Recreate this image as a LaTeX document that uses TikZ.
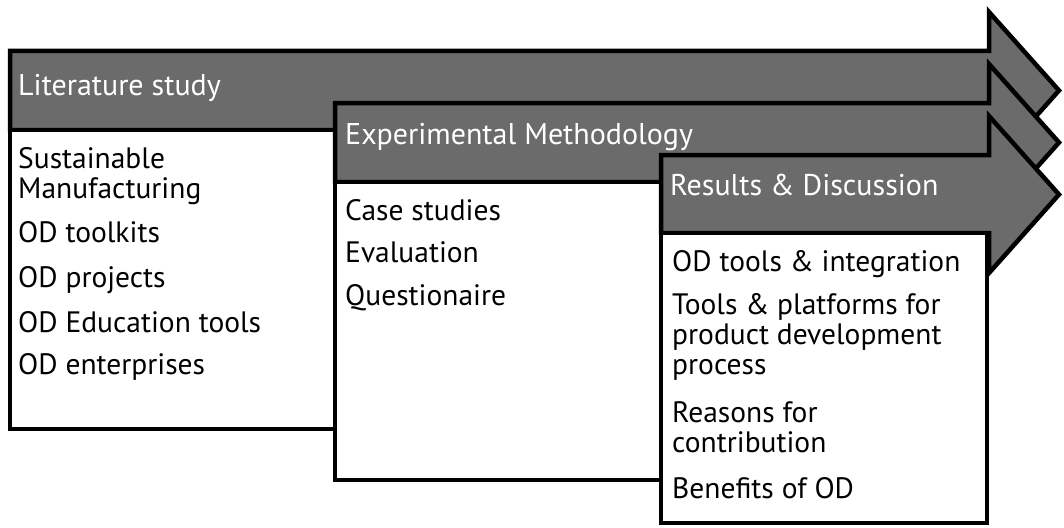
\documentclass[tikz,border=0pt]{standalone}
\usepackage{fontspec}
\setmainfont{PT Sans}
\definecolor{arrowgray}{RGB}{107,107,107}
\begin{document}
\begin{tikzpicture}[x=1pt,y=-1pt,
  arrowshape/.style={fill=arrowgray,draw=black,line width=4.5pt,line join=miter},
  listbox/.style={fill=white,draw=black,line width=4.5pt},
  head/.style={anchor=base west,inner sep=0pt,text=white,font=\fontsize{30}{30}\selectfont},
  item/.style={anchor=base west,inner sep=0pt,align=left,font=\fontsize{29.5}{30}\selectfont}]
\useasboundingbox (0,0) rectangle (1064,527);
% Arrow 1
\draw[arrowshape] (10,51) -- (989,51) -- (989,12) -- (1059,90.5) -- (989,169) -- (989,130) -- (10,130) -- cycle;
\node[head] (h1) at (18,95) {Literature study};
\draw[listbox] (10,130) rectangle (345,429);
\node[item] (a1) at (18,198) {Sustainable\\Manufacturing};
\node[item] (a2) at (18,242) {OD toolkits};
\node[item] (a3) at (18,287) {OD projects};
\node[item] (a4) at (18,332) {OD Education tools};
\node[item] (a5) at (18,374) {OD enterprises};
% Arrow 2
\draw[arrowshape] (335,103) -- (989,103) -- (989,64) -- (1059,142.5) -- (989,221) -- (989,182) -- (335,182) -- cycle;
\node[head] (h2) at (345,144) {Experimental Methodology};
\draw[listbox] (335,182) rectangle (670,480);
\node[item] (b1) at (345,220) {Case studies};
\node[item] (b2) at (345,262) {Evaluation};
\node[item] (b3) at (345,305) {Questionaire};
% Arrow 3
\draw[arrowshape] (661,155) -- (989,155) -- (989,116) -- (1059,194.5) -- (989,273) -- (989,233) -- (661,233) -- cycle;
\node[head] (h3) at (670,195) {Results \& Discussion};
\draw[listbox] (661,233) rectangle (987,523);
\node[item] (c1) at (672,271) {OD tools \& integration};
\node[item] (c2) at (672,374) {Tools \& platforms for\\product development\\process};
\node[item] (c3) at (672,452) {Reasons for\\contribution};
\node[item] (c4) at (672,498) {Benefits of OD};
\end{tikzpicture}
\end{document}
